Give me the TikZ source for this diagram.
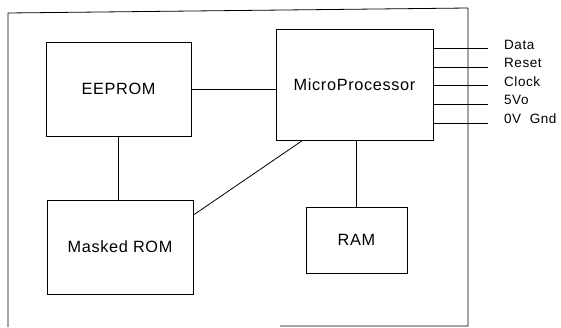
\documentclass[tikz,border=0pt]{standalone}
\usepackage{fontspec}
\setmainfont{Liberation Sans}[LetterSpace=4]
\newfontfamily\pinfont{Liberation Sans}[LetterSpace=4,WordSpace=2]
\begin{document}
\begin{tikzpicture}[x=1pt,y=-1pt,
  blockbox/.style={draw,line width=0.8pt,rectangle,inner sep=0pt,font=\fontsize{16.3}{19}\selectfont},
  wire/.style={line width=0.8pt},
  pinlabel/.style={anchor=west,inner sep=0pt,font=\pinfont\fontsize{13.5}{16}\selectfont}]
\useasboundingbox (0,0) rectangle (561,327);
% outer enclosure (bottom edge only partly visible)
\draw[wire] (280,326) -- (468,326) -- (468,8) -- (8,13) -- (8,327);
\node[blockbox,minimum width=145pt,minimum height=94pt] (eeprom) at (118.5,89) {EEPROM};
\node[blockbox,minimum width=157pt,minimum height=111pt] (micro) at (354.5,84.5) {MicroProcessor};
\node[blockbox,minimum width=146pt,minimum height=94pt] (rom) at (120,247) {Masked ROM};
\node[blockbox,minimum width=101pt,minimum height=66pt] (ram) at (356.5,240) {RAM};
\draw[wire] (eeprom.east) -- (micro.west |- eeprom.east);
\draw[wire] (eeprom.south) -- (eeprom.south |- rom.north);
\draw[wire] ([xshift=27pt]micro.south west) -- ([yshift=32pt]rom.east);
\draw[wire] (ram.north) -- (ram.north |- micro.south);
% pins
\foreach \n/\y/\t/\ty in {1/48/Data/45, 2/67/Reset/63, 3/85/Clock/82, 4/104/5Vo/100, 5/123/0V Gnd/119}{
  \coordinate (pin\n) at (488,\y);
  \node[pinlabel] (lab\n) at (504,\ty) {\t};
  \draw[wire] (micro.east |- pin\n) -- (pin\n);
}
\end{tikzpicture}
\end{document}
